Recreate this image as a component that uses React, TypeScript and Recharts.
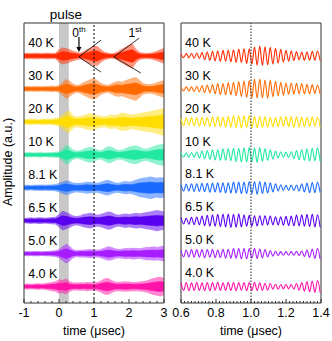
import React from 'react';
import {
  ComposedChart,
  Area,
  Line,
  XAxis,
  YAxis,
  ReferenceLine,
  ReferenceArea,
  ReferenceDot,
} from 'recharts';

const font = '"Liberation Sans", Arial, sans-serif';

const labels = ['40 K', '30 K', '20 K', '10 K', '8.1 K', '6.5 K', '5.0 K', '4.0 K'];
const colors = ['#ff2a00', '#ff6a00', '#ffdd00', '#20e8a0', '#1a6aff', '#5a00f0', '#a61cff', '#ff12a8'];
const offsets = [7.5, 6.5, 5.5, 4.5, 3.5, 2.5, 1.5, 0.5];

// left panel: envelope half-width of each trace, every 0.1 usec
const leftTimes = [-1, -0.9, -0.8, -0.7, -0.6, -0.5, -0.4, -0.3, -0.2, -0.1, 0, 0.1, 0.2, 0.3, 0.4, 0.5, 0.6, 0.7, 0.8, 0.9, 1, 1.1, 1.2, 1.3, 1.4, 1.5, 1.6, 1.7, 1.8, 1.9, 2, 2.1, 2.2, 2.3, 2.4, 2.5, 2.6, 2.7, 2.8, 2.9, 3];
const amp40K = [0.09, 0.1, 0.09, 0.1, 0.1, 0.09, 0.1, 0.1, 0.09, 0.1, 0.2, 0.26, 0.24, 0.2, 0.16, 0.13, 0.1, 0.14, 0.2, 0.25, 0.3, 0.3, 0.2, 0.13, 0.1, 0.08, 0.1, 0.16, 0.22, 0.28, 0.34, 0.38, 0.22, 0.12, 0.1, 0.09, 0.1, 0.12, 0.16, 0.2, 0.24];
const amp30K = [0.08, 0.09, 0.08, 0.09, 0.09, 0.08, 0.09, 0.09, 0.1, 0.09, 0.12, 0.2, 0.3, 0.25, 0.16, 0.12, 0.14, 0.2, 0.25, 0.3, 0.32, 0.26, 0.18, 0.14, 0.12, 0.16, 0.22, 0.24, 0.22, 0.26, 0.3, 0.34, 0.36, 0.28, 0.18, 0.15, 0.14, 0.16, 0.2, 0.24, 0.26];
const amp20K = [0.08, 0.09, 0.1, 0.09, 0.08, 0.09, 0.1, 0.09, 0.1, 0.12, 0.14, 0.22, 0.3, 0.34, 0.2, 0.16, 0.18, 0.2, 0.24, 0.26, 0.24, 0.2, 0.18, 0.16, 0.2, 0.22, 0.2, 0.24, 0.28, 0.26, 0.24, 0.22, 0.24, 0.26, 0.28, 0.3, 0.32, 0.34, 0.36, 0.4, 0.42];
const amp10K = [0.07, 0.08, 0.08, 0.07, 0.08, 0.08, 0.07, 0.08, 0.08, 0.09, 0.1, 0.18, 0.3, 0.26, 0.16, 0.12, 0.14, 0.18, 0.22, 0.24, 0.2, 0.16, 0.14, 0.2, 0.26, 0.24, 0.18, 0.14, 0.16, 0.2, 0.24, 0.27, 0.28, 0.24, 0.2, 0.18, 0.22, 0.26, 0.3, 0.32, 0.34];
const amp81K = [0.08, 0.09, 0.08, 0.09, 0.09, 0.1, 0.09, 0.1, 0.1, 0.11, 0.14, 0.18, 0.22, 0.2, 0.16, 0.14, 0.15, 0.16, 0.18, 0.17, 0.16, 0.15, 0.18, 0.22, 0.24, 0.2, 0.16, 0.15, 0.18, 0.2, 0.18, 0.2, 0.24, 0.28, 0.3, 0.32, 0.34, 0.32, 0.3, 0.32, 0.3];
const amp65K = [0.08, 0.09, 0.1, 0.09, 0.1, 0.1, 0.09, 0.1, 0.11, 0.12, 0.2, 0.3, 0.26, 0.22, 0.16, 0.14, 0.16, 0.2, 0.22, 0.24, 0.2, 0.18, 0.2, 0.24, 0.28, 0.26, 0.2, 0.18, 0.2, 0.22, 0.2, 0.22, 0.24, 0.22, 0.24, 0.26, 0.28, 0.3, 0.32, 0.3, 0.28];
const amp50K = [0.07, 0.08, 0.07, 0.08, 0.08, 0.07, 0.08, 0.08, 0.09, 0.1, 0.14, 0.22, 0.3, 0.24, 0.14, 0.1, 0.12, 0.12, 0.13, 0.14, 0.12, 0.12, 0.14, 0.18, 0.22, 0.2, 0.16, 0.14, 0.15, 0.17, 0.16, 0.18, 0.17, 0.16, 0.18, 0.2, 0.2, 0.22, 0.2, 0.22, 0.24];
const amp4K = [0.08, 0.09, 0.08, 0.09, 0.1, 0.09, 0.1, 0.12, 0.14, 0.16, 0.22, 0.2, 0.24, 0.16, 0.12, 0.12, 0.13, 0.12, 0.14, 0.13, 0.12, 0.14, 0.18, 0.24, 0.26, 0.2, 0.15, 0.14, 0.15, 0.16, 0.15, 0.14, 0.14, 0.15, 0.16, 0.18, 0.22, 0.26, 0.28, 0.3, 0.26];
const amps = [amp40K, amp30K, amp20K, amp10K, amp81K, amp65K, amp50K, amp4K];

// right panel: oscillation extremes (deviation from baseline)
const rightTimes = [0.6, 0.615, 0.63, 0.645, 0.66, 0.675, 0.69, 0.705, 0.72, 0.735, 0.75, 0.765, 0.78, 0.795, 0.81, 0.825, 0.84, 0.855, 0.87, 0.885, 0.9, 0.915, 0.93, 0.945, 0.96, 0.975, 0.99, 1.005, 1.02, 1.035, 1.05, 1.065, 1.08, 1.095, 1.11, 1.125, 1.14, 1.155, 1.17, 1.185, 1.2, 1.215, 1.23, 1.245, 1.26, 1.275, 1.29, 1.305, 1.32, 1.335, 1.35, 1.365, 1.38, 1.395];
const osc40K = [0.06, -0.05, 0.07, -0.06, 0.08, -0.07, 0.09, -0.08, 0.1, -0.11, 0.12, -0.13, 0.14, -0.15, 0.15, -0.16, 0.17, -0.16, 0.18, -0.18, 0.19, -0.2, 0.21, -0.2, 0.22, -0.23, 0.22, -0.25, 0.27, -0.28, 0.3, -0.29, 0.28, -0.27, 0.26, -0.25, 0.23, -0.22, 0.2, -0.19, 0.17, -0.16, 0.15, -0.14, 0.13, -0.12, 0.12, -0.13, 0.12, -0.13, 0.14, -0.13, 0.15, -0.14];
const osc30K = [0.05, -0.06, 0.06, -0.07, 0.06, -0.08, 0.08, -0.09, 0.1, -0.11, 0.12, -0.12, 0.13, -0.15, 0.16, -0.17, 0.16, -0.18, 0.19, -0.18, 0.2, -0.21, 0.22, -0.23, 0.24, -0.26, 0.25, -0.27, 0.29, -0.28, 0.3, -0.28, 0.27, -0.28, 0.26, -0.24, 0.23, -0.21, 0.2, -0.19, 0.18, -0.17, 0.18, -0.16, 0.17, -0.15, 0.16, -0.15, 0.14, -0.15, 0.13, -0.14, 0.12, -0.16];
const osc20K = [0.1, -0.11, 0.12, -0.1, 0.13, -0.12, 0.12, -0.13, 0.14, -0.12, 0.13, -0.14, 0.15, -0.14, 0.16, -0.15, 0.14, -0.16, 0.17, -0.16, 0.18, -0.17, 0.18, -0.19, 0.18, -0.17, 0.19, -0.18, 0.17, -0.18, 0.16, -0.17, 0.15, -0.16, 0.14, -0.15, 0.13, -0.14, 0.15, -0.14, 0.16, -0.15, 0.16, -0.17, 0.15, -0.16, 0.14, -0.15, 0.13, -0.14, 0.15, -0.13, 0.14, -0.15];
const osc10K = [0.06, -0.07, 0.06, -0.08, 0.07, -0.08, 0.09, -0.1, 0.11, -0.12, 0.13, -0.14, 0.15, -0.16, 0.15, -0.17, 0.18, -0.17, 0.19, -0.18, 0.2, -0.21, 0.2, -0.22, 0.21, -0.22, 0.23, -0.22, 0.21, -0.23, 0.22, -0.2, 0.19, -0.17, 0.15, -0.13, 0.11, -0.1, 0.09, -0.08, 0.08, -0.09, 0.1, -0.12, 0.13, -0.15, 0.16, -0.17, 0.18, -0.19, 0.2, -0.19, 0.21, -0.2];
const osc81K = [0.09, -0.1, 0.11, -0.1, 0.12, -0.11, 0.12, -0.11, 0.13, -0.12, 0.13, -0.14, 0.14, -0.13, 0.15, -0.14, 0.15, -0.16, 0.15, -0.16, 0.17, -0.16, 0.17, -0.18, 0.17, -0.18, 0.19, -0.18, 0.19, -0.2, 0.19, -0.18, 0.17, -0.16, 0.15, -0.13, 0.12, -0.1, 0.09, -0.08, 0.07, -0.08, 0.08, -0.09, 0.08, -0.1, 0.12, -0.13, 0.14, -0.15, 0.16, -0.15, 0.17, -0.14];
const osc65K = [0.09, -0.1, 0.08, -0.11, 0.1, -0.12, 0.11, -0.13, 0.14, -0.15, 0.16, -0.17, 0.18, -0.17, 0.19, -0.18, 0.2, -0.19, 0.2, -0.21, 0.19, -0.2, 0.21, -0.19, 0.18, -0.17, 0.16, -0.17, 0.15, -0.16, 0.15, -0.14, 0.15, -0.13, 0.14, -0.13, 0.12, -0.13, 0.12, -0.14, 0.13, -0.15, 0.14, -0.16, 0.17, -0.16, 0.18, -0.17, 0.19, -0.18, 0.2, -0.19, 0.18, -0.2];
const osc50K = [0.09, -0.1, 0.11, -0.1, 0.12, -0.11, 0.12, -0.11, 0.12, -0.13, 0.12, -0.11, 0.13, -0.12, 0.11, -0.12, 0.13, -0.14, 0.13, -0.14, 0.15, -0.14, 0.15, -0.16, 0.15, -0.16, 0.15, -0.14, 0.16, -0.15, 0.14, -0.13, 0.12, -0.1, 0.09, -0.08, 0.07, -0.06, 0.06, -0.05, 0.06, -0.05, 0.06, -0.05, 0.07, -0.06, 0.08, -0.09, 0.11, -0.12, 0.14, -0.15, 0.16, -0.17];
const osc4K = [0.11, -0.12, 0.12, -0.13, 0.11, -0.12, 0.13, -0.12, 0.11, -0.13, 0.12, -0.13, 0.12, -0.11, 0.13, -0.12, 0.11, -0.12, 0.13, -0.12, 0.12, -0.13, 0.12, -0.11, 0.12, -0.13, 0.12, -0.12, 0.13, -0.12, 0.11, -0.12, 0.1, -0.11, 0.09, -0.08, 0.07, -0.08, 0.06, -0.07, 0.06, -0.07, 0.06, -0.08, 0.09, -0.11, 0.12, -0.14, 0.15, -0.16, 0.17, -0.18, 0.19, -0.18];
const oscs = [osc40K, osc30K, osc20K, osc10K, osc81K, osc65K, osc50K, osc4K];

const leftMajor = [-1, 0, 1, 2, 3];
const rightMajor = [0.6, 0.8, 1.0, 1.2, 1.4];
const leftTicks = Array.from({ length: 21 }, (_, i) => Math.round((-1 + i * 0.2) * 1000) / 1000);
const rightTicks = Array.from({ length: 41 }, (_, i) => Math.round((0.6 + i * 0.02) * 1000) / 1000);

const leftRows = leftTimes.map((t, i) => {
  const row: any = { t };
  amps.forEach((a, j) => {
    row['o' + j] = [offsets[j] - a[i], offsets[j] + a[i]];
    row['c' + j] = [offsets[j] - a[i] * 0.5, offsets[j] + a[i] * 0.5];
  });
  return row;
});

const rightRows = rightTimes.map((t, i) => {
  const row: any = { t };
  oscs.forEach((o, j) => {
    row['v' + j] = offsets[j] + o[i];
  });
  return row;
});

const makeTick = (side: 'top' | 'bottom', majors: number[], fmt: (v: number) => string) => (props: any) => {
  const { x, y, payload } = props;
  const v = payload.value;
  const major = majors.some((m) => Math.abs(m - v) < 1e-6);
  const len = major ? 4 : 2;
  const dir = side === 'bottom' ? -1 : 1;
  return (
    <g>
      <line x1={x} x2={x} y1={y} y2={y + dir * len} stroke="#333" strokeWidth={1} />
      {side === 'bottom' && major && (
        <text x={x} y={y + 14} textAnchor="middle" fontSize={12.5} fill="#000" fontFamily={font}>
          {fmt(v)}
        </text>
      )}
    </g>
  );
};

const textShape = (value: string, size = 12.5, anchor = 'start') => (p: any) => (
  <text x={p.cx} y={p.cy} fontSize={size} fill="#000" fontFamily={font} textAnchor={anchor}>
    {value}
  </text>
);

const supShape = (base: string, sup: string) => (p: any) => (
  <text x={p.cx} y={p.cy} fontSize={12} fill="#000" fontFamily={font} textAnchor="middle">
    {base}
    <tspan fontSize={8} dy={-5}>{sup}</tspan>
  </text>
);

const arrowShape = (p: any) => (
  <g>
    <line x1={p.cx} x2={p.cx} y1={p.cy - 15} y2={p.cy - 4} stroke="#000" strokeWidth={1.2} />
    <polygon points={`${p.cx - 2.5},${p.cy - 5} ${p.cx + 2.5},${p.cy - 5} ${p.cx},${p.cy}`} fill="#000" />
  </g>
);

const LeftPanel = () => (
  <ComposedChart width={170} height={341} data={leftRows} margin={{ top: 23, right: 6, bottom: 18, left: 24 }}>
    <XAxis dataKey="t" type="number" domain={[-1, 3]} ticks={leftTicks} interval={0} height={20}
      axisLine={false} tickLine={false} tickSize={0} tickMargin={0}
      tick={makeTick('bottom', leftMajor, (v) => String(v))} />
    <XAxis xAxisId="top" orientation="top" dataKey="t" type="number" domain={[-1, 3]} ticks={leftTicks} interval={0} height={0}
      axisLine={false} tickLine={false} tickSize={0} tickMargin={0}
      tick={makeTick('top', leftMajor, (v) => String(v))} />
    <YAxis hide type="number" domain={[0, 8.5]} />
    <ReferenceArea x1={0} x2={0.28} y1={0} y2={8.5} fill="#c8c8c8" fillOpacity={1} stroke="none" />
    {labels.map((l, j) => (
      <Area key={'o' + j} dataKey={'o' + j} type="linear" stroke="none" fill={colors[j]} fillOpacity={0.5} isAnimationActive={false} />
    ))}
    {labels.map((l, j) => (
      <Area key={'c' + j} dataKey={'c' + j} type="linear" stroke={colors[j]} strokeWidth={0.6} fill={colors[j]} fillOpacity={1} isAnimationActive={false} />
    ))}
    <ReferenceLine x={1} stroke="#000" strokeDasharray="2 2" strokeWidth={1} />
    <ReferenceLine segment={[{ x: 1.2, y: 7.98 }, { x: 0.57, y: 7.47 }]} stroke="#000" strokeWidth={0.8} ifOverflow="visible" />
    <ReferenceLine segment={[{ x: 0.57, y: 7.47 }, { x: 1.2, y: 7.01 }]} stroke="#000" strokeWidth={0.8} ifOverflow="visible" />
    <ReferenceLine segment={[{ x: 2.29, y: 8.04 }, { x: 1.57, y: 7.47 }]} stroke="#000" strokeWidth={0.8} ifOverflow="visible" />
    <ReferenceLine segment={[{ x: 1.57, y: 7.47 }, { x: 2.34, y: 6.98 }]} stroke="#000" strokeWidth={0.8} ifOverflow="visible" />
    <ReferenceDot x={0.57} y={7.62} r={0} ifOverflow="visible" shape={arrowShape} />
    <ReferenceDot x={0.57} y={8.07} r={0} ifOverflow="visible" shape={supShape('0', 'th')} />
    <ReferenceDot x={2.17} y={8.07} r={0} ifOverflow="visible" shape={supShape('1', 'st')} />
    <ReferenceDot x={0.2} y={8.62} r={0} ifOverflow="visible" shape={textShape('pulse', 13.5, 'middle')} />
    {labels.map((l, j) => (
      <ReferenceDot key={'l' + j} x={-0.88} y={offsets[j] + 0.27} r={0} ifOverflow="visible" shape={textShape(l)} />
    ))}
    <ReferenceArea x1={-1} x2={3} y1={0} y2={8.5} fill="none" stroke="#333" strokeWidth={1} />
  </ComposedChart>
);

const RightPanel = () => (
  <ComposedChart width={166} height={341} data={rightRows} margin={{ top: 23, right: 11, bottom: 18, left: 15 }}>
    <XAxis dataKey="t" type="number" domain={[0.6, 1.4]} ticks={rightTicks} interval={0} height={20}
      axisLine={false} tickLine={false} tickSize={0} tickMargin={0}
      tick={makeTick('bottom', rightMajor, (v) => v.toFixed(1))} />
    <XAxis xAxisId="top" orientation="top" dataKey="t" type="number" domain={[0.6, 1.4]} ticks={rightTicks} interval={0} height={0}
      axisLine={false} tickLine={false} tickSize={0} tickMargin={0}
      tick={makeTick('top', rightMajor, (v) => v.toFixed(1))} />
    <YAxis hide type="number" domain={[0, 8.5]} />
    {labels.map((l, j) => (
      <Line key={'v' + j} dataKey={'v' + j} type="monotone" stroke={colors[j]} strokeWidth={1.1} dot={false} isAnimationActive={false} />
    ))}
    <ReferenceLine x={1} stroke="#444" strokeDasharray="1.5 1.5" strokeWidth={1.2} />
    {labels.map((l, j) => (
      <ReferenceDot key={'l' + j} x={0.623} y={offsets[j] + 0.28} r={0} ifOverflow="visible" shape={textShape(l)} />
    ))}
    <ReferenceArea x1={0.6} x2={1.4} y1={0} y2={8.5} fill="none" stroke="#333" strokeWidth={1} />
  </ComposedChart>
);

export default function App() {
  const title: React.CSSProperties = { position: 'absolute', fontFamily: font, fontSize: 12.5, color: '#000', whiteSpace: 'nowrap', lineHeight: '14px' };
  return (
    <div style={{ position: 'absolute', left: 0, top: 0, width: 332, height: 341, background: '#fff', overflow: 'hidden' }}>
      <div style={{ position: 'absolute', left: 0, top: 0 }}>
        <LeftPanel />
      </div>
      <div style={{ position: 'absolute', left: 166, top: 0 }}>
        <RightPanel />
      </div>
      <div style={{ ...title, left: 94, top: 324, transform: 'translateX(-50%)' }}>time (μsec)</div>
      <div style={{ ...title, left: 251, top: 324, transform: 'translateX(-50%)' }}>time (μsec)</div>
      <div style={{ ...title, left: 8, top: 162, transform: 'translate(-50%, -50%) rotate(-90deg)' }}>Amplitude (a.u.)</div>
    </div>
  );
}
